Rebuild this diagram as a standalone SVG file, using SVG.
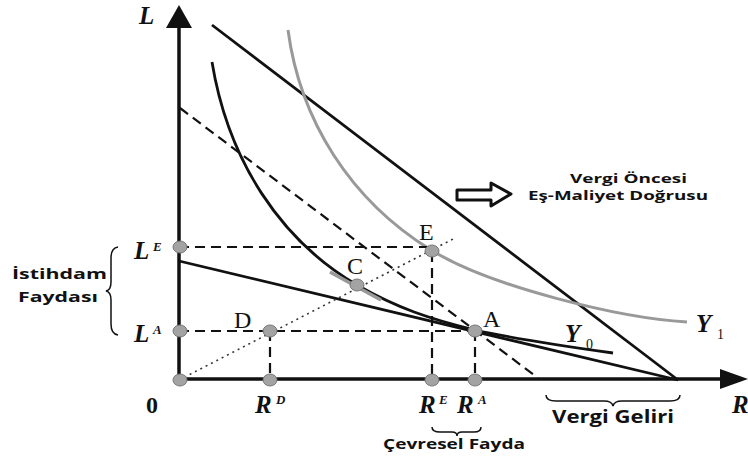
<svg xmlns="http://www.w3.org/2000/svg" width="748" height="457" viewBox="0 0 748 457">
<style>
.ax{stroke:#111;stroke-width:3.5;fill:none}
.ln{stroke:#111;stroke-width:2.8;fill:none}
.gr{stroke:#999;stroke-width:3;fill:none}
.da{stroke:#111;stroke-width:2.2;stroke-dasharray:10,6;fill:none}
.dt{stroke:#333;stroke-width:1.6;stroke-dasharray:2,4;fill:none}
.br{stroke:#111;stroke-width:1.5;fill:none}
.dot{fill:#a3a3a3;stroke:#777;stroke-width:1}
.m{font-family:"Liberation Serif",serif;font-size:24px;fill:#111}
.mi{font-family:"Liberation Serif",serif;font-size:25px;font-style:italic;font-weight:bold;fill:#111}
.sup{font-family:"Liberation Serif",serif;font-size:13px;font-style:italic;font-weight:bold;fill:#111}
.sub{font-family:"Liberation Serif",serif;font-size:14px;fill:#111}
.t{font-family:"Open Sans",sans-serif;font-weight:bold;fill:#111}
</style>
<g id="connectors">
<line class="ax" x1="179" y1="382" x2="179" y2="26"/>
<polygon points="179,5 166,28 192,28" fill="#111"/>
<line class="ax" x1="177" y1="379" x2="722" y2="379"/>
<polygon points="748,379 720,369 720,389" fill="#111"/>
<line class="ln" x1="212" y1="25" x2="678" y2="380"/>
<line class="da" x1="180" y1="108" x2="538" y2="378"/>
<line class="ln" x1="179" y1="261" x2="678" y2="380"/>
<path class="ln" d="M212,62 C228,160 280,240 357,285 C397,308 430,319 475,330 C520,340 570,347 613,353"/>
<path class="gr" d="M288,30 C300,120 350,200 431,250 C491,287 620,318 687,322"/>
<line x1="330" y1="272" x2="381" y2="300" stroke="#999" stroke-width="3.5"/>
<line class="da" x1="179" y1="247" x2="432" y2="247"/>
<line class="da" x1="179" y1="331" x2="475" y2="331"/>
<line class="da" x1="432" y1="252" x2="432" y2="379"/>
<line class="da" x1="475" y1="331" x2="475" y2="379"/>
<line class="da" x1="270" y1="331" x2="270" y2="379"/>
<line class="dt" x1="179" y1="380" x2="455" y2="238"/>
<path class="br" d="M118,247 Q111,248 111,258 L111,282 Q111,290 106,291 Q111,292 111,300 L111,324 Q111,334 118,335"/>
<path class="br" d="M546,395 Q546,401 556,401 L604,401 Q612,401 613,406 Q614,401 622,401 L670,401 Q680,401 680,395"/>
<path class="br" d="M432,427 Q432,432 440,432 L452,432 Q457,432 457,436 Q457,432 462,432 L474,432 Q481,432 481,427"/>
<polygon points="457,190 491,190 491,183 511,194 491,206 491,200 457,200" fill="#fff" stroke="#111" stroke-width="3" stroke-linejoin="round"/>
</g>
<g id="dots">
<ellipse class="dot" cx="180" cy="247" rx="7" ry="6"/>
<ellipse class="dot" cx="180" cy="331" rx="7" ry="6"/>
<ellipse class="dot" cx="180" cy="380" rx="7" ry="6"/>
<ellipse class="dot" cx="270" cy="331" rx="7" ry="6"/>
<ellipse class="dot" cx="432" cy="251" rx="7" ry="6"/>
<ellipse class="dot" cx="357" cy="285" rx="7" ry="6"/>
<ellipse class="dot" cx="475" cy="331" rx="7" ry="6"/>
<ellipse class="dot" cx="270" cy="380" rx="7" ry="6"/>
<ellipse class="dot" cx="432" cy="380" rx="7" ry="6"/>
<ellipse class="dot" cx="475" cy="380" rx="7" ry="6"/>
</g>
<g id="labels">
<text class="mi" x="139" y="24">L</text>
<text class="mi" x="134" y="259">L</text><text class="sup" x="153" y="251">E</text>
<text class="mi" x="134" y="342">L</text><text class="sup" x="153" y="334">A</text>
<text class="m" x="146" y="413" font-weight="bold">0</text>
<text class="m" x="419" y="240">E</text>
<text class="m" x="347" y="274">C</text>
<text class="m" x="234" y="328">D</text>
<text class="m" x="483" y="327">A</text>
<text class="mi" x="255" y="413">R</text><text class="sup" x="276" y="404">D</text>
<text class="mi" x="419" y="413">R</text><text class="sup" x="439" y="404">E</text>
<text class="mi" x="457" y="413">R</text><text class="sup" x="478" y="404">A</text>
<text class="mi" x="732" y="413">R</text>
<text class="mi" x="565" y="342">Y</text><text class="sub" x="586" y="349">0</text>
<text class="mi" x="696" y="332">Y</text><text class="sub" x="717" y="339">1</text>
<text class="t" x="12" y="279" font-size="15" textLength="95" lengthAdjust="spacingAndGlyphs">İstihdam</text>
<text class="t" x="18" y="302" font-size="15" textLength="80" lengthAdjust="spacingAndGlyphs">Faydası</text>
<text class="t" x="570" y="183" font-size="13" textLength="117" lengthAdjust="spacingAndGlyphs">Vergi Öncesi</text>
<text class="t" x="528" y="200" font-size="13" textLength="180" lengthAdjust="spacingAndGlyphs">Eş-Maliyet Doğrusu</text>
<text class="t" x="552" y="423" font-size="17" textLength="122" lengthAdjust="spacingAndGlyphs">Vergi Geliri</text>
<text class="t" x="383" y="449" font-size="14" textLength="142" lengthAdjust="spacingAndGlyphs">Çevresel Fayda</text>
</g>
</svg>
